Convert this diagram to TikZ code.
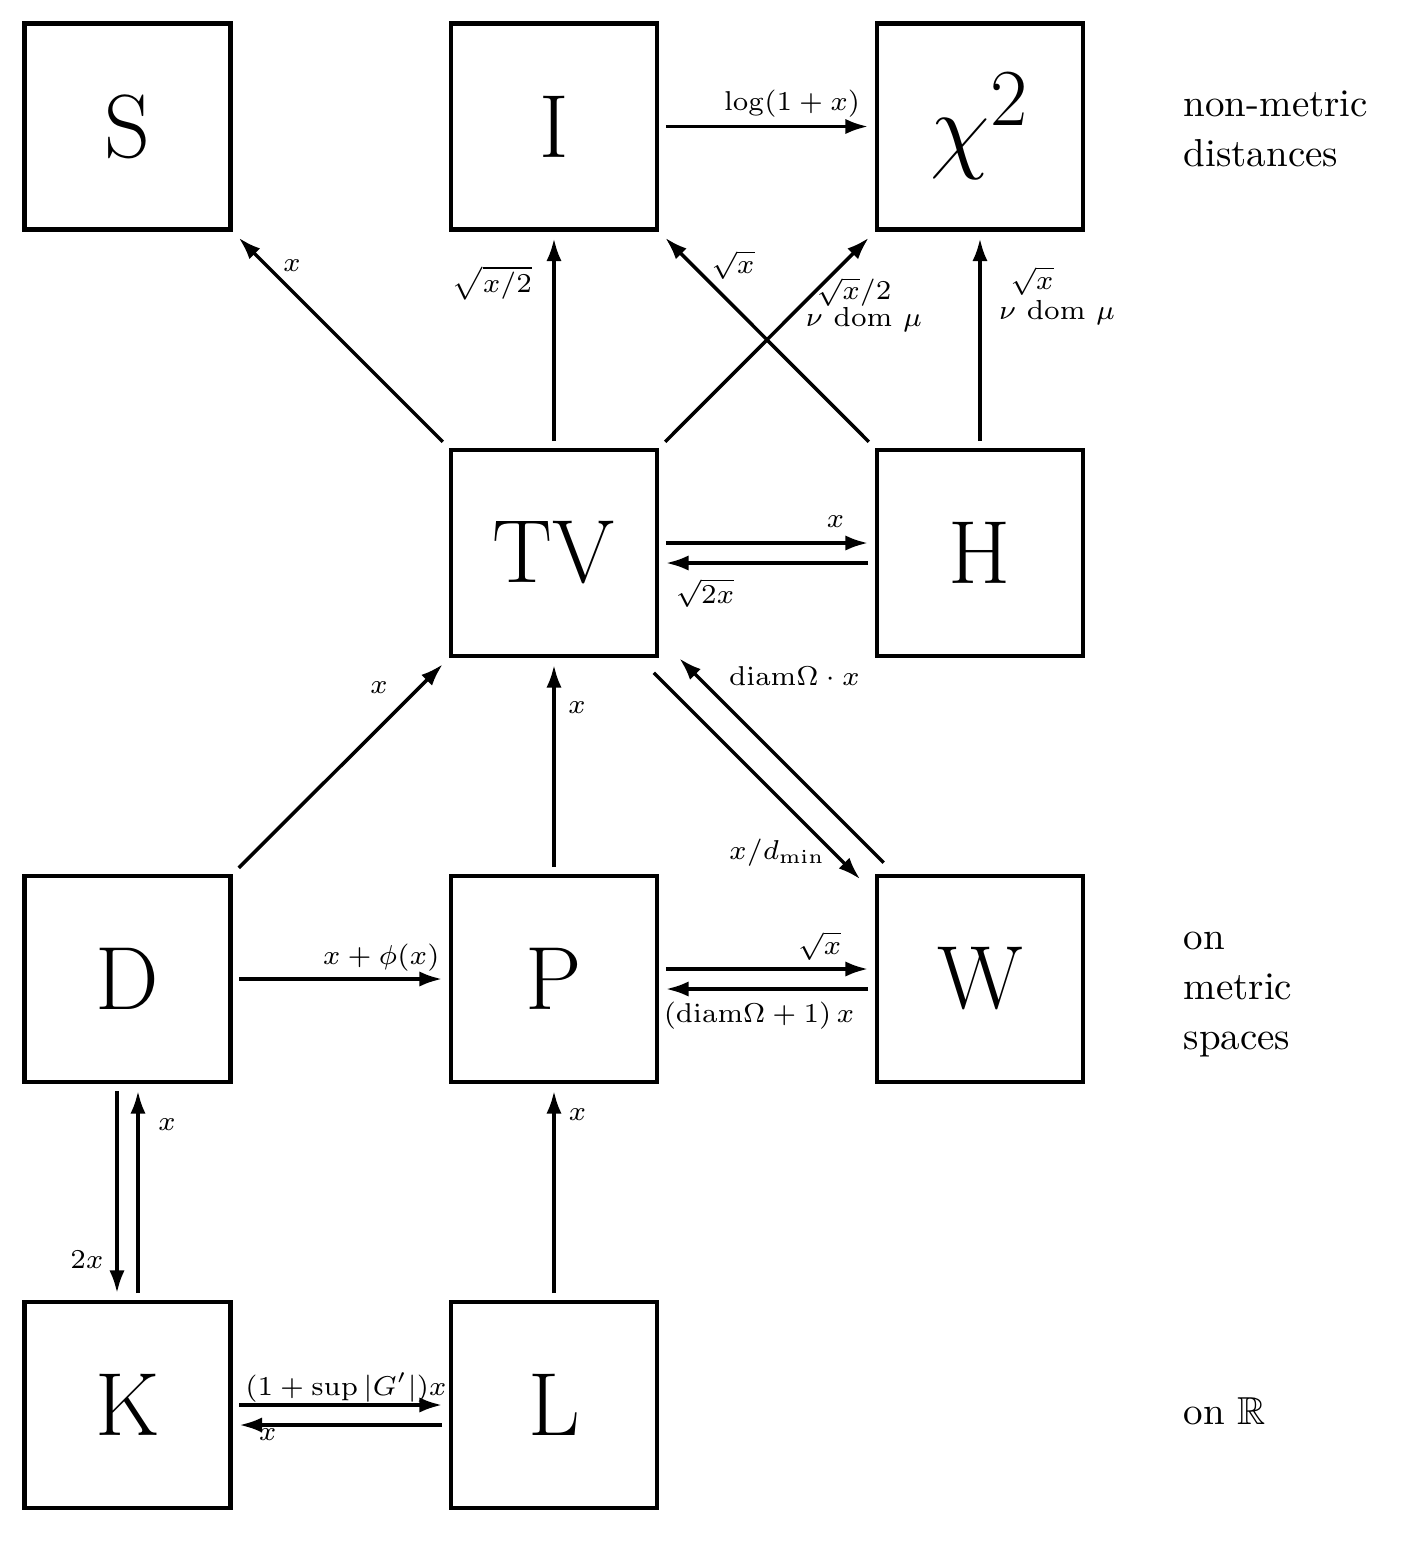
\documentclass[tikz,border=0pt]{standalone}
\usepackage{amssymb}
\usetikzlibrary{arrows.meta}
\DeclareMathSizes{23}{23}{19.5}{16}
\tikzset{
  box/.style={draw, line width=1.1pt, minimum width=52.8pt, minimum height=52.8pt,
    inner sep=0pt, outer sep=0pt, font=\fontsize{23}{27}\selectfont},
  arr/.style={line width=0.9pt, -{Latex[length=5.8pt,width=3.9pt]},
    shorten <=2.3pt, shorten >=2.3pt},
  darr/.style={arr, shorten <=3pt, shorten >=3pt},
  lbl/.style={font=\fontsize{7.05}{8.5}\selectfont, inner sep=0pt},
  side/.style={font=\fontsize{10}{12.8}\selectfont, align=left, anchor=west, inner sep=0pt}
}
\begin{document}
\begin{tikzpicture}[x=0.25641pt, y=-0.25641pt]
\useasboundingbox (0,0) rectangle (1422,1544);

% boxes
\node[box] (S)  at (127.5,126.5) {S};
\node[box] (I)  at (554,126.5)   {I};
\node[box] (X)  at (980,126.5)   {$\chi^2$};
\node[box] (TV) at (554,553)     {TV};
\node[box] (H)  at (980,553)     {H};
\node[box] (D)  at (127.5,979)   {D};
\node[box] (P)  at (554,979)     {P};
\node[box] (W)  at (980,979)     {W};
\node[box] (K)  at (127.5,1405)  {K};
\node[box] (L)  at (554,1405)    {L};

% side texts
\node[side] (t1) at (1183,128.7)  {non-metric\\distances};
\node[side] (t2) at (1183,994.4)  {on\\metric\\spaces};
\node[side] (t3) at (1183,1411.7) {on $\mathbb{R}$};

% top row
\draw[arr] (I.east) -- node[lbl,pos=0.614,shift={(0,-22.5)}] (lIX) {$\log(1+x)$} (X.west);

% into the top row
\draw[darr] (TV.north west) -- node[lbl,pos=0.778,shift={(12.5,-12.5)}] (lTVS) {$x$} (S.south east);
\draw[arr] (TV.north) -- node[lbl,pos=0.757,shift={(-62,0)}] (lTVI) {$\sqrt{x/2}$} (I.south);
\draw[darr] (H.north west) -- node[lbl,pos=0.747,shift={(20.3,-20.3)}] (lHI) {$\sqrt{x}$} (I.south east);
\draw[darr] (TV.north east) --
  node[lbl,pos=0.806,shift={(19.7,19.7)}] (lTVXa) {$\sqrt{x}/2$}
  node[lbl,pos=0.767,shift={(38.1,38.3)}] (lTVXb) {$\nu$ dom $\mu$} (X.south west);
\draw[arr] (H.north) --
  node[lbl,pos=0.766,shift={(52,0)}] (lHXa) {$\sqrt{x}$}
  node[lbl,pos=0.621,shift={(77,0)}] (lHXb) {$\nu$ dom $\mu$} (X.south);

% TV <-> H
\draw[arr] ([shift={(0,-10)}]TV.east) -- node[lbl,pos=0.811,shift={(0,-21.5)}] (lTVH) {$x$} ([shift={(0,-10)}]H.west);
\draw[arr] ([shift={(0,10)}]H.west) -- node[lbl,pos=0.782,shift={(0,30)}] (lHTV) {$\sqrt{2x}$} ([shift={(0,10)}]TV.east);

% TV <-> W
\draw[arr, shorten <=1.2pt, shorten >=4.5pt] ([shift={(10,-10)}]W.north west) --
  node[lbl,pos=0.641,shift={(48.5,-48.5)}] (lWTV) {$\mathrm{diam}\Omega\cdot x$} ([shift={(10,-10)}]TV.south east);
\draw[arr, shorten <=2.5pt, shorten >=2.5pt] ([shift={(-10,10)}]TV.south east) --
  node[lbl,pos=0.72,shift={(-28.4,28.6)}] (lTVW) {$x/d_{\min}$} ([shift={(-10,10)}]W.north west);

% into TV from below
\draw[darr] (D.north east) -- node[lbl,pos=0.764,shift={(-20,-20)}] (lDTV) {$x$} (TV.south west);
\draw[arr] (P.north) -- node[lbl,pos=0.764,shift={(23,0)}] (lPTV) {$x$} (TV.south);

% metric row
\draw[arr] (D.east) -- node[lbl,pos=0.683,shift={(0,-21)}] (lDP) {$x+\phi(x)$} (P.west);
\draw[arr] ([shift={(0,-10)}]P.east) -- node[lbl,pos=0.739,shift={(0,-23)}] (lPW) {$\sqrt{x}$} ([shift={(0,-10)}]W.west);
\draw[arr] ([shift={(0,10)}]W.west) -- node[lbl,pos=0.536,shift={(0,27)}] (lWP) {$(\mathrm{diam}\Omega+1)\,x$} ([shift={(0,10)}]P.east);

% D <-> K, L -> P
\draw[arr] ([shift={(-10.5,0)}]D.south) -- node[lbl,pos=0.809,shift={(-30,0)}] (lDK) {$2x$} ([shift={(-10.5,0)}]K.north);
\draw[arr] ([shift={(10.5,0)}]K.north) -- node[lbl,pos=0.805,shift={(29,0)}] (lKD) {$x$} ([shift={(10.5,0)}]D.south);
\draw[arr] (L.north) -- node[lbl,pos=0.85,shift={(23.5,0)}] (lLP) {$x$} (P.south);

% K <-> L
\draw[arr] (K.east) -- node[lbl,pos=0.524,shift={(0,-17.5)}] (lKL) {$(1+\sup|G'|)x$} (L.west);
\draw[arr] ([shift={(0,20)}]L.west) -- node[lbl,pos=0.831,shift={(0,10)}] (lLK) {$x$} ([shift={(0,20)}]K.east);
\end{tikzpicture}
\end{document}
